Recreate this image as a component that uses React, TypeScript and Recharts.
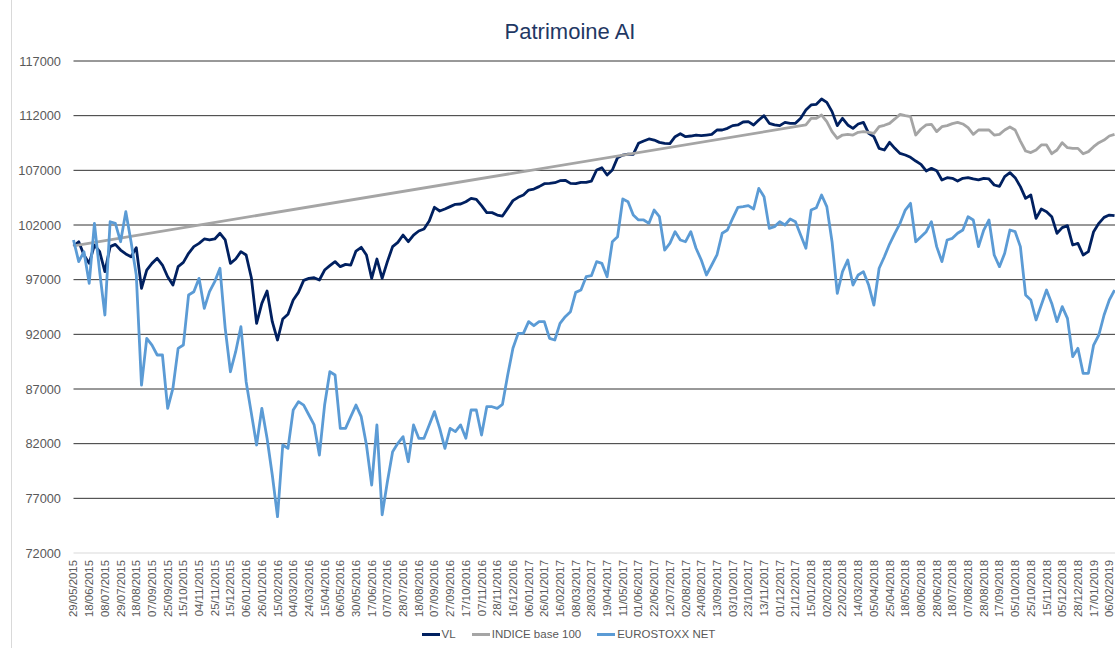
import React from "react";
import { LineChart, Line, XAxis, YAxis, ReferenceLine, Legend } from "recharts";

const font = "'Liberation Sans', Arial, sans-serif";
const textColor = "#595959";

// one tick label every 3 rows
const rowsPerLabel = 3;

const dateLabels = [
    "29/05/2015", "18/06/2015", "08/07/2015", "29/07/2015", "18/08/2015", "07/09/2015",
    "25/09/2015", "15/10/2015", "04/11/2015", "25/11/2015", "15/12/2015",
    "06/01/2016", "26/01/2016", "15/02/2016", "04/03/2016", "24/03/2016", "15/04/2016",
    "06/05/2016", "30/05/2016", "17/06/2016", "07/07/2016", "28/07/2016", "18/08/2016",
    "07/09/2016", "27/09/2016", "17/10/2016", "07/11/2016", "28/11/2016", "16/12/2016",
    "06/01/2017", "26/01/2017", "16/02/2017", "08/03/2017", "28/03/2017", "19/04/2017",
    "11/05/2017", "01/06/2017", "22/06/2017", "12/07/2017", "02/08/2017", "24/08/2017",
    "13/09/2017", "03/10/2017", "23/10/2017", "13/11/2017", "01/12/2017", "21/12/2017",
    "15/01/2018", "02/02/2018", "22/02/2018", "14/03/2018", "05/04/2018", "25/04/2018",
    "18/05/2018", "08/06/2018", "28/06/2018", "18/07/2018", "07/08/2018", "28/08/2018",
    "17/09/2018", "05/10/2018", "25/10/2018", "15/11/2018", "05/12/2018", "28/12/2018",
    "17/01/2019", "06/02/2019",
];

const yTicks = [72000, 77000, 82000, 87000, 92000, 97000, 102000, 107000, 112000, 117000];

const vl = [
    100080, 100470, 99260, 98490, 100170, 99560, 97730, 100020, 100230, 99710,
    99350, 99100, 99930, 96210, 97880, 98490, 98950, 98340, 97270, 96510,
    98190, 98580, 99410, 100020, 100320, 100720, 100630, 100720, 101240, 100630,
    98490, 98890, 99560, 99260, 97180, 93000, 94830, 95960, 93160, 91480,
    93400, 93830, 95140, 95840, 96940, 97120, 97180, 96970, 97880, 98280,
    98650, 98190, 98400, 98340, 99620, 99960, 99260, 97120, 98890, 97120,
    98650, 100020, 100410, 101080, 100470, 101080, 101450, 101630, 102370, 103620,
    103280, 103460, 103680, 103890, 103920, 104130, 104440, 104350, 103770, 103130,
    103130, 102910, 102820, 103520, 104230, 104530, 104740, 105200, 105290, 105510,
    105780, 105810, 105870, 106050, 106090, 105810, 105780, 105900, 105900, 106020,
    107030, 107240, 106570, 107030, 108160, 108400, 108490, 108460, 109470, 109680,
    109870, 109770, 109560, 109470, 109440, 110080, 110350, 110080, 110140, 110230,
    110170, 110230, 110290, 110690, 110690, 110840, 111090, 111150, 111420, 111450,
    111150, 111600, 112000, 111300, 111150, 111090, 111390, 111300, 111300, 111760,
    112520, 112980, 113040, 113520, 113220, 112370, 111090, 111760, 111150, 110840,
    111240, 111390, 110380, 110080, 109010, 108860, 109560, 109010, 108550, 108400,
    108190, 107850, 107550, 106940, 107180, 106970, 106120, 106330, 106270, 106020,
    106270, 106330, 106210, 106120, 106270, 106210, 105660, 105540, 106420, 106790,
    106330, 105510, 104440, 104740, 102610, 103460, 103220, 102760, 101240, 101760,
    101940, 100170, 100320, 99260, 99560, 101390, 102150, 102700, 102910, 102850,
];

const eurostoxx = [
    100630, 98650, 99560, 96660, 102150, 97730, 93770, 102300, 102150, 100470,
    103220, 100470, 97430, 87360, 91630, 91020, 90110, 90110, 85230, 87060,
    90720, 91020, 95600, 95900, 97120, 94380, 95900, 96820, 98040, 92550,
    88580, 90410, 92700, 87670, 84770, 81880, 85230, 82490, 79130, 75320,
    81880, 81570, 85080, 85840, 85530, 84620, 83710, 80960, 85530, 88580,
    88280, 83400, 83400, 84470, 85530, 84470, 81880, 78220, 83710, 75500,
    78520, 81270, 82030, 82640, 80350, 83710, 82490, 82490, 83710, 84930,
    83400, 81570, 83400, 83100, 83710, 82490, 85080, 85080, 82790, 85380,
    85380, 85230, 85600, 88280, 90720, 92090, 92090, 93160, 92790, 93160,
    93160, 91630, 91480, 93000, 93610, 94070, 95840, 96050, 97270, 97360,
    98650, 98490, 97270, 100470, 100930, 104380, 104130, 102910, 102460, 102460,
    102150, 103370, 102760, 99710, 100320, 101390, 100630, 100470, 101390, 99870,
    98800, 97430, 98340, 99260, 101240, 101540, 102610, 103620, 103680, 103770,
    103460, 105350, 104590, 101690, 101850, 102300, 102000, 102550, 102300, 101080,
    99870, 103370, 103580, 104740, 103680, 100470, 95750, 97730, 98800, 96510,
    97430, 97730, 96510, 94680, 98040, 99100, 100260, 101240, 102150, 103370,
    103980, 100470, 100930, 101390, 102300, 100020, 98650, 100630, 100780, 101240,
    101540, 102760, 102460, 100020, 101540, 102460, 99260, 98190, 99410, 101540,
    101390, 100020, 95600, 95140, 93310, 94680, 96050, 94830, 93160, 94530,
    93460, 89960, 90720, 88430, 88430, 91020, 91940, 93770, 95140, 96050,
];

// INDICE base 100: first value, then a gap, then values from row 140 on
const indiceStart = 100100;
const indiceFrom = 140;
const indice = [
    111150, 111760, 111760, 112060, 111450, 110540, 109930, 110230, 110290, 110230,
    110480, 110540, 110480, 110380, 110990, 111120, 111300, 111700, 112120, 112000,
    111910, 110230, 110780, 111150, 111210, 110540, 110990, 111090, 111270, 111390,
    111240, 110900, 110290, 110690, 110690, 110690, 110230, 110290, 110690, 110960,
    110690, 109680, 108770, 108620, 108860, 109320, 109320, 108520, 108860, 109530,
    109070, 109010, 109010, 108520, 108710, 109160, 109530, 109770, 110140, 110290,
];

const series = [
    { key: "vl", name: "VL", color: "#002060" },
    { key: "indice", name: "INDICE base 100", color: "#A5A5A5" },
    { key: "eurostoxx", name: "EUROSTOXX NET", color: "#5B9BD5" },
];

const data = vl.map((v, i) => ({
    i,
    vl: v,
    indice: i === 0 ? indiceStart : i >= indiceFrom ? indice[i - indiceFrom] : null,
    eurostoxx: eurostoxx[i],
}));

const xTicks = dateLabels.map((_, k) => k * rowsPerLabel);

const DateTick = ({ x, y, payload }: any) => {
    const ty = y + 7;
    return (
        <text
            x={x}
            y={ty}
            transform={`rotate(-90 ${x} ${ty})`}
            textAnchor="end"
            dy="0.35em"
            fill={textColor}
            fontSize={11.4}
            fontFamily={font}
        >
            {dateLabels[Math.round(payload.value / rowsPerLabel)]}
        </text>
    );
};

const LegendContent = () => (
    <div
        style={{
            display: "flex",
            justifyContent: "center",
            alignItems: "center",
            height: 16,
            fontSize: 11.5,
            fontFamily: font,
            color: textColor,
        }}
    >
        {series.map((s) => (
            <span key={s.key} style={{ display: "flex", alignItems: "center", margin: "0 8px" }}>
                <span style={{ width: 18, height: 3, background: s.color, marginRight: 2 }} />
                {s.name}
            </span>
        ))}
    </div>
);

export default function App() {
    return (
        <div
            style={{
                position: "absolute",
                left: 0,
                top: 0,
                width: 1115,
                height: 648,
                overflow: "hidden",
                background: "#fff",
            }}
        >
            <div style={{ position: "relative", width: 1140, height: 648 }}>
                <div
                    style={{
                        position: "absolute",
                        left: 11,
                        top: 0,
                        width: 1,
                        height: 648,
                        background: "#d9d9d9",
                    }}
                />
                <div
                    style={{
                        position: "absolute",
                        top: 21,
                        left: 0,
                        width: 1140,
                        textAlign: "center",
                        fontFamily: font,
                        fontSize: 22,
                        lineHeight: "22px",
                        color: "#1F3864",
                    }}
                >
                    Patrimoine AI
                </div>
                <LineChart
                    width={1140}
                    height={648}
                    data={data}
                    margin={{ top: 61, right: 15, bottom: 6, left: 12 }}
                >
                    {yTicks.slice(1).map((v) => (
                        <ReferenceLine key={v} y={v} stroke="#333333" strokeWidth={1} />
                    ))}
                    <XAxis
                        dataKey="i"
                        type="number"
                        domain={[0, 201]}
                        ticks={xTicks}
                        interval={0}
                        tickLine={false}
                        tickSize={0}
                        tickMargin={0}
                        height={73}
                        axisLine={{ stroke: "#d9d9d9" }}
                        tick={<DateTick />}
                    />
                    <YAxis
                        domain={[72000, 117000]}
                        ticks={yTicks}
                        interval={0}
                        width={61.5}
                        tickLine={false}
                        axisLine={false}
                        tickSize={0}
                        tickMargin={12.5}
                        tick={{ fill: textColor, fontSize: 12.8, fontFamily: font }}
                    />
                    <Legend verticalAlign="bottom" content={() => <LegendContent />} />
                    {series.map((s) => (
                        <Line
                            key={s.key}
                            type="linear"
                            dataKey={s.key}
                            name={s.name}
                            stroke={s.color}
                            strokeWidth={2.8}
                            strokeLinejoin="round"
                            dot={false}
                            connectNulls
                            isAnimationActive={false}
                        />
                    ))}
                </LineChart>
            </div>
        </div>
    );
}
